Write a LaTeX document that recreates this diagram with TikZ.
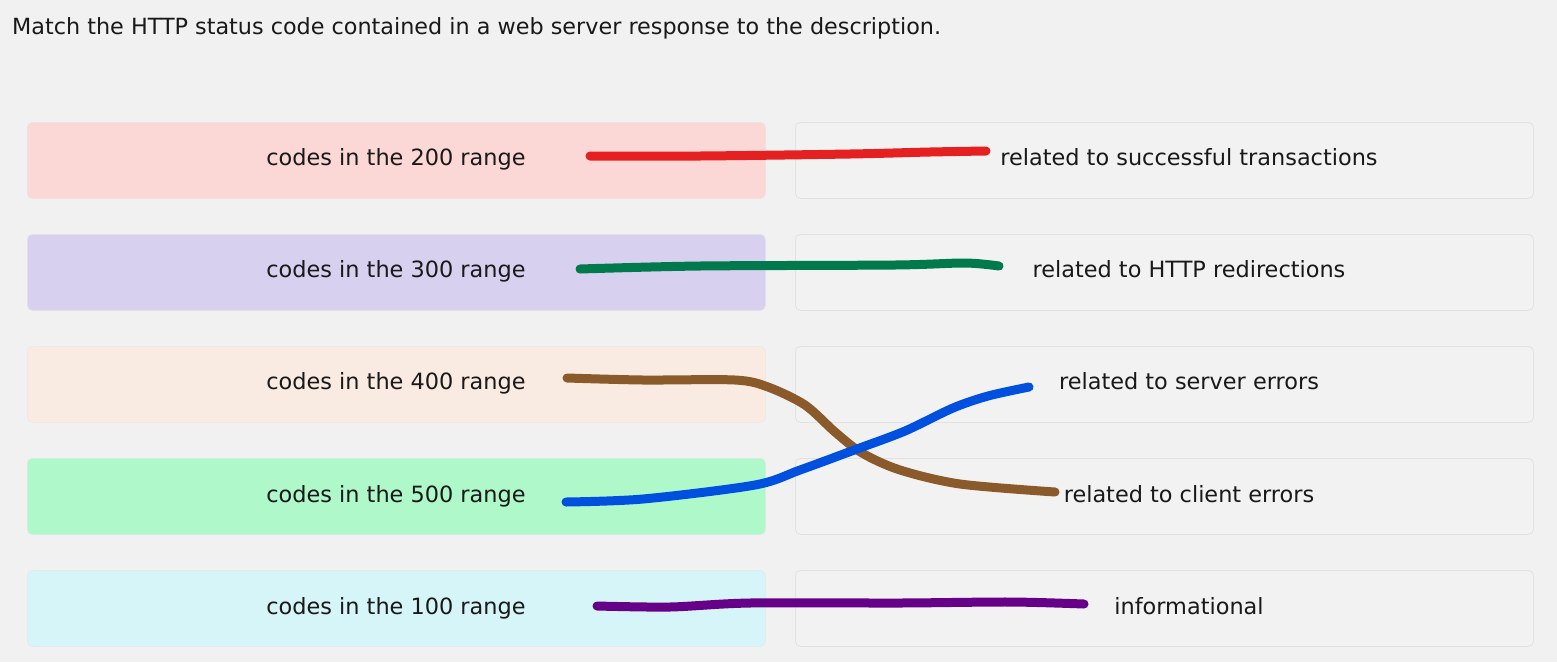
\documentclass[tikz,border=0pt]{standalone}
\usepackage{fontspec}
\setmainfont{DejaVu Sans}
\begin{document}
\begin{tikzpicture}[x=1pt,y=-1pt,
  lbox/.style={draw=#1!85!black!40!white, line width=0.8pt, rounded corners=5pt, minimum width=738pt, minimum height=76pt, inner sep=0pt, anchor=north west},
  rbox/.style={draw=boxline, fill=boxfill, line width=0.8pt, rounded corners=5pt, minimum width=738pt, minimum height=76pt, inner sep=0pt, anchor=north west},
  txt/.style={font=\fontsize{22.4}{26}\selectfont, text=black!90, inner sep=0pt, anchor=base},
  pen/.style={line width=9pt, line cap=round, line join=round}
]
\definecolor{bg}{HTML}{F1F1F1}
\definecolor{boxfill}{HTML}{F2F2F2}
\definecolor{boxline}{HTML}{E2E2E2}
\definecolor{c2}{HTML}{FBD8D5}
\definecolor{c3}{HTML}{D7D0EF}
\definecolor{c4}{HTML}{F9EBE1}
\definecolor{c5}{HTML}{AEF8C9}
\definecolor{c1}{HTML}{D6F5F8}
\definecolor{pred}{HTML}{E52020}
\definecolor{pgreen}{HTML}{007A4D}
\definecolor{pbrown}{HTML}{8B5A2B}
\definecolor{pblue}{HTML}{0050E0}
\definecolor{ppurple}{HTML}{660088}
\fill[bg] (0,0) rectangle (1557,662);
\useasboundingbox (0,0) rectangle (1557,662);

\node[txt, anchor=base west, font=\fontsize{22.3}{26}\selectfont] (title) at (12,34) {Match the HTTP status code contained in a web server response to the description.};

% left boxes
\node[lbox=c2, fill=c2] (L1) at (27,122) {};
\node[lbox=c3, fill=c3] (L2) at (27,234) {};
\node[lbox=c4, fill=c4] (L3) at (27,346) {};
\node[lbox=c5, fill=c5] (L4) at (27,458) {};
\node[lbox=c1, fill=c1] (L5) at (27,570) {};
% right boxes
\node[rbox] (R1) at (795,122) {};
\node[rbox] (R2) at (795,234) {};
\node[rbox] (R3) at (795,346) {};
\node[rbox] (R4) at (795,458) {};
\node[rbox] (R5) at (795,570) {};

% left texts
\node[txt] (t1) at (396,165) {codes in the 200 range};
\node[txt] (t2) at (396,277) {codes in the 300 range};
\node[txt] (t3) at (396,389) {codes in the 400 range};
\node[txt] (t4) at (396,502) {codes in the 500 range};
\node[txt] (t5) at (396,614) {codes in the 100 range};
% right texts
\node[txt] (d1) at (1189,165) {related to successful transactions};
\node[txt] (d2) at (1189,277) {related to HTTP redirections};
\node[txt] (d3) at (1189,389) {related to server errors};
\node[txt] (d4) at (1189,502) {related to client errors};
\node[txt] (d5) at (1189,614) {informational};

% pen stroke ends
\coordinate (s1) at (590,156); \coordinate (e1) at (986,151);
\coordinate (s2) at (580,269); \coordinate (e2) at (999,266);
\coordinate (s3) at (567,378); \coordinate (e3) at (1055,492);
\coordinate (s4) at (566,502); \coordinate (e4) at (1029,387);
\coordinate (s5) at (597,606); \coordinate (e5) at (1084,604);

\draw[pen, pred] plot[smooth, tension=0.5] coordinates {(s1) (700,156) (850,154) (930,152) (e1)};
\draw[pen, pgreen] plot[smooth, tension=0.5] coordinates {(s2) (700,266) (895,265) (965,263) (e2)};
\draw[pen, pbrown] plot[smooth, tension=0.5] coordinates {(s3) (643,380) (735,380) (768,387) (805,405) (835,432) (862,453) (900,470) (960,484) (e3)};
\draw[pen, pblue] plot[smooth, tension=0.5] coordinates {(s4) (643,499) (755,485) (800,470) (857,449) (905,431) (953,408) (988,396) (e4)};
\draw[pen, ppurple] plot[smooth, tension=0.5] coordinates {(s5) (670,607) (750,603) (900,603) (1010,602) (e5)};
\end{tikzpicture}
\end{document}
